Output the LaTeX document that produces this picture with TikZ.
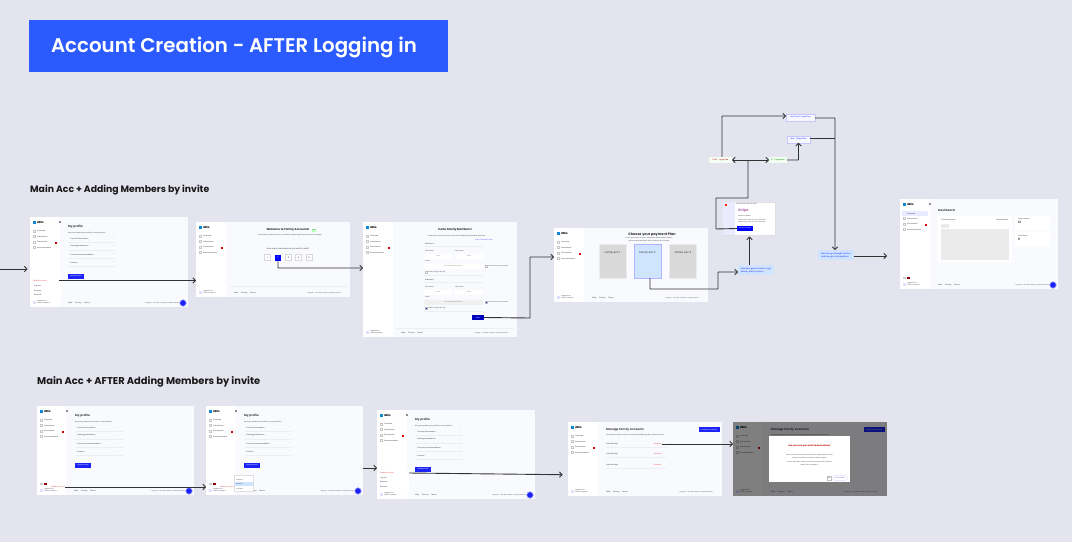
\documentclass[tikz,border=0pt]{standalone}
\usepackage{fontspec}
\usepackage{xcolor}
\setmainfont{Poppins}
\newfontfamily\headfont{Poppins SemiBold}
\usetikzlibrary{arrows.meta, positioning}

\definecolor{canvasbg}{HTML}{E3E4EE}
\definecolor{headblue}{HTML}{2B5BFF}
\definecolor{pagebg}{HTML}{F9FAFE}
\definecolor{btnblue}{HTML}{1A22F5}
\definecolor{notebg}{HTML}{CFE4FF}
\definecolor{inkdark}{HTML}{333333}
\definecolor{txtgray}{HTML}{3C3C46}
\definecolor{delred}{HTML}{E5484D}
\definecolor{rulegray}{HTML}{EDEEF3}

\tikzset{
    page/.style={rectangle, fill=pagebg, inner sep=0pt, outer sep=0pt, anchor=north west},
    sidebar/.style={rectangle, fill=white, inner sep=0pt, outer sep=0pt, anchor=north west},
    txt/.style={anchor=west, inner sep=0pt, font=\fontsize{1.8}{2.3}\selectfont, text=txtgray},
    txtc/.style={inner sep=0pt, align=center, font=\fontsize{1.8}{2.3}\selectfont, text=txtgray},
    headtxt/.style={inner sep=0pt, font=\fontsize{2.8}{3.2}\selectfont\bfseries, text=black!85},
    btn/.style={rectangle, fill=btnblue, inner sep=0pt, outer sep=0pt, text=white, font=\fontsize{1.6}{2}\selectfont},
    box/.style={rectangle, inner sep=0pt, outer sep=0pt, anchor=north west},
    planbox/.style={rectangle, fill=black!15, draw=black!8, line width=0.5pt, inner sep=0pt, outer sep=0pt, minimum width=27pt, minimum height=34pt},
    plantxt/.style={inner sep=0pt, font=\fontsize{2.6}{3}\selectfont, text=black!85},
    chip/.style={rectangle, inner sep=0pt, outer sep=0pt, minimum height=6.5pt, font=\fontsize{1.9}{2.4}\selectfont},
    bluechip/.style={chip, fill=blue!3, draw=blue!22, line width=0.5pt, text=btnblue},
    infonote/.style={rectangle, fill=notebg, inner sep=0pt, outer sep=0pt, minimum width=36pt, minimum height=10pt, align=left, text=btnblue, font=\fontsize{2}{3}\selectfont},
    sectionlabel/.style={anchor=west, inner sep=0pt, font=\fontsize{9.3}{11}\selectfont\bfseries, text=black!90},
    flow/.style={-{Straight Barb[length=2.6pt,width=5.4pt]}, draw=inkdark, line width=0.9pt, rounded corners=0.5pt},
    flowplain/.style={draw=inkdark, line width=0.9pt, rounded corners=0.5pt}
}

% #1 name, #2 left, #3 top, #4 width, #5 height, #6 sidebar width
\newcommand{\appscreen}[6]{
    \node[page, minimum width=#4pt, minimum height=#5pt] (#1) at (#2,#3) {};
    \node[sidebar, minimum width=#6pt, minimum height=#5pt] (#1side) at (#1.north west) {};
    \node[box, fill=cyan!70!blue, minimum width=2.5pt, minimum height=3pt] (#1logo) at ([shift={(3,3.5)}]#1.north west) {};
    \node[anchor=west, inner sep=0pt, font=\fontsize{2.8}{3.2}\selectfont\bfseries] (#1brand) at ([shift={(7,5)}]#1.north west) {dBio};
    \foreach \i/\t in {0/Overview,1/Instructions,2/Documents,3/Announcement} {
        \node[box, draw=black!22, line width=0.25pt, minimum width=2pt, minimum height=2pt] (#1ico\i) at ([shift={(3.3,{13+5.5*\i})}]#1.north west) {};
        \node[txt] (#1item\i) at ([shift={(7,{14+5.5*\i})}]#1.north west) {\t};
    }
    \node[box, fill=red!85!black, minimum width=2pt, minimum height=2pt] (#1badge) at ([shift={(25,24.5)}]#1.north west) {};
    \node[box, fill=blue!12, minimum width=3pt, minimum height=3pt] (#1avatar) at ([shift={(3,{#5-6.5})}]#1.north west) {};
    \node[txt, align=left, font=\fontsize{1.5}{1.9}\selectfont] (#1user) at ([shift={(7,{#5-5})}]#1.north west) {Logged in as\\Lorem Company};
    \node[txt] (#1foot) at ([shift={(#6+8,{#5-4})}]#1.north west) {Help};
    \node[txt] (#1foota) at ([shift={(#6+15,{#5-4})}]#1.north west) {Privacy};
    \node[txt] (#1footb) at ([shift={(#6+24,{#5-4})}]#1.north west) {Terms};
    \node[txt, anchor=east, font=\fontsize{1.3}{1.7}\selectfont] (#1copy) at ([shift={(-9,{#5-4})}]#1.north east) {Copyright © 2023 dBio Company. All rights reserved};
}

% small round help button in the corner of a screen, expand mark by the logo
\newcommand{\chatbtn}[1]{
    \node[circle, fill=btnblue, draw=blue!35, line width=0.6pt, inner sep=0pt, minimum size=6.5pt] (#1chat) at ([shift={(-5,-4)}]#1.south east) {};
    \node[box, draw=black!45, line width=0.2pt, minimum size=1.4pt] (#1expand) at ([shift={(29,4)}]#1.north west) {};
}

% language flags low in the sidebar
\newcommand{\flagpair}[2]{
    \node[box, fill=black!20, minimum width=3pt, minimum height=2pt] (#1flaga) at ([shift={(3,{#2-12})}]#1.north west) {};
    \node[box, fill=red!55!black, minimum width=3pt, minimum height=2pt] (#1flagb) at ([shift={(7,{#2-12})}]#1.north west) {};
}

% My profile body
\newcommand{\profilebody}[1]{
    \node[anchor=west, inner sep=0pt, font=\fontsize{2.9}{3.4}\selectfont\bfseries, text=black!75] (#1title) at ([shift={(38,10)}]#1.north west) {My profile};
    \node[txt, font=\fontsize{1.6}{2}\selectfont] (#1sub) at ([shift={(38,16)}]#1.north west) {Here you update your profile, for any questions};
    \foreach \i/\t in {0/Contact information,1/Viewing preferences,2/Contact recommendation,3/Invoices} {
        \node[txt] (#1row\i) at ([shift={(40,{21.5+8*\i})}]#1.north west) {\t};
        \node[txtc] (#1dash\i) at ([shift={(83,{21.5+8*\i})}]#1.north west) {--};
        \draw[rulegray, line width=0.3pt] ([shift={(38,{25.5+8*\i})}]#1.north west) -- ([shift={(86,{25.5+8*\i})}]#1.north west);
    }
    \node[btn, minimum width=16pt, minimum height=5pt] (#1update) at ([shift={(46,59.5)}]#1.north west) {Update profile};
}

% rows of family accounts
\newcommand{\familybody}[1]{
    \node[anchor=west, inner sep=0pt, font=\fontsize{2.9}{3.4}\selectfont\bfseries, text=black!75] (#1title) at ([shift={(38,8)}]#1.north west) {Manage Family Accounts};
    \node[txt, font=\fontsize{1.6}{2}\selectfont] (#1sub) at ([shift={(38,13.5)}]#1.north west) {Lorem ipsum dolor sit amet, consectetur adipiscing elit, sed do eiusmod};
    \node[btn, minimum width=21pt, minimum height=5pt] (#1create) at ([shift={(-13,7.5)}]#1.north east) {Create new member};
    \foreach \i/\t/\ypos in {0/Louis Rodrigo/22,1/Louis Rodrigo/32,2/Louis Rodrigo/43} {
        \node[txt] (#1fam\i) at ([shift={(38,\ypos)}]#1.north west) {\t};
        \node[txt, text=delred] (#1rem\i) at ([shift={(86,\ypos)}]#1.north west) {Remove};
        \draw[rulegray, line width=0.3pt] ([shift={(38,\ypos+3)}]#1.north west) -- ([shift={(98,\ypos+3)}]#1.north west);
    }
}

\begin{document}
\begin{tikzpicture}[x=1pt, y=-1pt]

\useasboundingbox[fill=canvasbg] (0,0) rectangle (1072,542);

% Heading
\node[rectangle, fill=headblue, inner sep=0pt, outer sep=0pt, minimum width=419pt, minimum height=52pt] (heading) at (238.5,46) {};
\node[inner sep=0pt, text=white, font=\fontsize{19.8}{24}\headfont] (headingtxt) at (234,47.5) {Account Creation - AFTER Logging in};

% Section labels
\node[sectionlabel] (toplabel) at (30,190.5) {Main Acc + Adding Members by invite};
\node[sectionlabel, font=\fontsize{9.9}{11}\selectfont\bfseries] (botlabel) at (37,381.5) {Main Acc + AFTER Adding Members by invite};

% First row of screens
\appscreen{profa}{30}{217}{158}{90}{30}
\chatbtn{profa}
\profilebody{profa}
\node[box, fill=white, minimum width=32pt, minimum height=22pt] (profapop) at (30,277) {};
\node[txt, text=delred] (profadel) at (33,280.5) {Delete Account};
\node[txt] (profaout) at (34,286) {Log out};
\node[txt] (profarem) at (34,290.5) {Remove};
\node[txt] (profarec) at (34,295) {Recents};

\appscreen{welc}{196}{222}{154}{75}{30}
\node[headtxt] (welctitle) at (288,230) {Welcome to Family Accounts!};
\node[box, fill=green!25, minimum width=4.5pt, minimum height=2.5pt, font=\fontsize{1.4}{2}\selectfont, text=green!50!black] (welcnew) at (311.7,229) {NEW};
\node[txtc, font=\fontsize{1.6}{2}\selectfont] (welcsub) at (290,235.5) {Lorem ipsum dolor sit amet, consectetur adipiscing elit, sed do eiusmod tempor};
\node[txtc, font=\fontsize{2}{2.5}\selectfont] (welcask) at (288,249) {How many members do you want to add?};
\foreach \i/\n/\xpos in {0/1/267.5,2/3/288.5,3/4/298.5,4/5/309} {
    \node[rectangle, fill=white, draw=black!15, line width=0.4pt, minimum size=6pt, inner sep=0pt, font=\fontsize{2}{2.4}\selectfont] (welcnum\i) at (\xpos,257.5) {\n};
}
\node[rectangle, fill=blue, minimum size=6pt, inner sep=0pt, outer sep=0pt, text=white, font=\fontsize{2}{2.4}\selectfont] (welctwo) at (278,257.5) {2};
\draw[rulegray, line width=0.4pt] (230,285.7) -- (347,285.7);

\appscreen{invi}{363}{222}{154}{115}{30}
\node[headtxt] (invititle) at (455,230) {Invite Family Members!};
\node[txtc, font=\fontsize{1.6}{2}\selectfont] (invisub) at (456.5,236) {Lorem ipsum dolor sit amet, consectetur adipiscing elit, sed do eiusmod};
\node[txtc, text=blue!70, font=\fontsize{1.5}{2}\selectfont] (invilink) at (484,239.5) {Learn more about roles};
\foreach \m/\yo/\mfill/\cfill in {a/0/white/white,b/36/black!6/blue} {
    \node[txt] (inviname\m) at (425,244+\yo) {Member \ifnum\yo=0 1\else 2\fi};
    \draw[rulegray, line width=0.4pt] (424,246.5+\yo) -- (483,246.5+\yo);
    \node[txt, font=\fontsize{1.6}{2}\selectfont] (invifirst\m) at (425,251+\yo) {First name};
    \node[txt, font=\fontsize{1.6}{2}\selectfont] (invilast\m) at (455,251+\yo) {Last name};
    \node[box, fill=white, minimum width=28pt, minimum height=4.5pt, font=\fontsize{1.6}{2}\selectfont, text=black!45] (invifbox\m) at (424,254+\yo) {Louis};
    \node[box, fill=white, minimum width=28pt, minimum height=4.5pt, font=\fontsize{1.6}{2}\selectfont, text=black!45] (inviwbox\m) at (455,254+\yo) {Pablo};
    \node[txt, font=\fontsize{1.6}{2}\selectfont] (inviemail\m) at (425,261+\yo) {Email};
    \node[box, fill=\mfill, minimum width=59pt, minimum height=5pt, font=\fontsize{1.6}{2}\selectfont, text=black!45] (invimail\m) at (424,263.5+\yo) {louis.pablo@email.com};
    \node[box, fill=\cfill, draw=black!25, line width=0.2pt, minimum size=2pt] (invicheck\m) at (485,265+\yo) {};
    \node[txt, font=\fontsize{1.4}{2}\selectfont] (invinote\m) at (488,266+\yo) {Account for payment details};
    \node[box, fill=\cfill, draw=black!25, line width=0.2pt, minimum size=2pt] (invitick\m) at (425,271+\yo) {};
    \node[txt, font=\fontsize{1.6}{2}\selectfont] (inviacc\m) at (428,272+\yo) {Invite to login with QR};
    \draw[rulegray, line width=0.3pt] (424,275+\yo) -- (483,275+\yo);
}
\node[rectangle, fill=blue!75!black, minimum width=12pt, minimum height=5pt, inner sep=0pt, outer sep=0pt, text=white, font=\fontsize{1.6}{2}\selectfont] (invinext) at (478,317.5) {Next};
\draw[rulegray, line width=0.4pt] (396,328) -- (514,328);

\appscreen{plan}{554}{228}{154}{74}{30}
\node[headtxt, font=\fontsize{3.4}{4}\selectfont\bfseries] (plantitle) at (652,234.5) {Choose your payment Plan};
\node[txtc, font=\fontsize{1.5}{2.4}\selectfont] (plansub) at (649,239.5) {Lorem ipsum dolor sit amet, consectetur adipiscing elit, sed do\\Quis nostrud exercitation ullamco laboris nisi ut aliquip};
\node[planbox] (acca) at (612.5,261) {};
\node[planbox, fill=notebg, draw=blue!30] (accb) at (647.5,261) {};
\node[planbox] (accc) at (683,261) {};
\node[plantxt] (accatxt) at (612.5,252.5) {Family Acc 1};
\node[plantxt] (accbtxt) at (647.5,252.5) {Family Acc 2};
\node[plantxt] (accctxt) at (683,252.5) {Family Acc 3};

% Payment popup
\node[box, fill=white, draw=black!12, line width=0.4pt, minimum width=52pt, minimum height=33pt] (paywin) at (723,202) {};
\node[box, fill=blue!8, minimum width=12pt, minimum height=32.5pt] (payside) at (723.2,202.2) {};
\node[box, fill=red!70!orange, minimum width=2pt, minimum height=2pt] (payico) at (725,203.5) {};
\node[txt, font=\fontsize{1.5}{2}\selectfont] (paytop) at (736,204.5) {Lorem ipsum dolor sit amet};
\node[txt, text=violet!60, font=\fontsize{3.4}{4}\selectfont\bfseries] (paysum) at (738,211) {Stripe};
\node[txt, font=\fontsize{1.5}{2}\selectfont] (payone) at (738,216) {Payment details};
\node[txt, align=left, font=\fontsize{1.4}{1.8}\selectfont] (paytwo) at (738,221) {Lorem ipsum dolor sit amet, consectetur\\adipiscing elit, sed do eiusmod tempor};
\node[rectangle, fill=blue, minimum width=16pt, minimum height=5pt, inner sep=0pt, outer sep=0pt, text=white, font=\fontsize{1.5}{2}\selectfont] (paybtn) at (745,228.5) {Accept and pay};

% Status chips
\node[chip, fill=green!4, text=red!75!black, minimum width=23pt] (failchip) at (720.5,160) {PYMT - Legal Fee};
\node[chip, fill=green!6, text=green!50!black, minimum width=18pt] (okchip) at (778,160) {PT - Legal Fee};
\node[bluechip, minimum width=29pt, font=\fontsize{1.7}{2.4}\selectfont] (notifchip) at (800.5,117.5) {Notif Email - Stripe Plan};
\node[bluechip, minimum width=23pt, font=\fontsize{1.9}{2.4}\selectfont] (mailchip) at (798.5,139.5) {Mail - Stripe Plan};

% Notes
\node[infonote] (noteplan) at (756,270) {Members get an invite to login\\directly, they’ll come in};
\node[infonote] (notedash) at (836,255) {Main Acc go through the flow,\\and they go to the platform};

% Dashboard
\appscreen{dash}{900}{199}{158}{90}{30}
\chatbtn{dash}
\flagpair{dash}{90}
\node[box, fill=blue!8, minimum width=26pt, minimum height=5pt] (dashact) at (902,211) {};
\node[txt] (dashactxt) at (907,213.5) {Overview};
\node[anchor=west, inner sep=0pt, font=\fontsize{2.9}{3.4}\selectfont\bfseries, text=black!75] (dashtitle) at (938,210) {Dashboard};
\node[box, fill=white, minimum width=74pt, minimum height=46pt] (dashcard) at (938,216) {};
\node[txt] (dashhead) at (941,220.5) {Overview graph};
\node[txtc] (dashtag) at (1002,220.5) {Last updated};
\node[box, fill=black!8, minimum width=8pt, minimum height=3.5pt] (dashchip) at (941,224) {};
\node[box, fill=black!8, minimum width=68pt, minimum height=31pt] (dashgraph) at (941,229) {};
\node[box, fill=white, minimum width=35pt, minimum height=14pt] (dashopen) at (1015,215.5) {};
\node[box, fill=white, minimum width=35pt, minimum height=14pt] (dashtotal) at (1015,232) {};
\node[txt] (dashopent) at (1018,219) {Open claims};
\node[txt, font=\fontsize{3}{3.4}\selectfont\bfseries] (dashopenn) at (1018,222.5) {12};
\node[txt] (dashtotalt) at (1018,236) {Total Docs};
\node[txt, font=\fontsize{3}{3.4}\selectfont\bfseries] (dashtotaln) at (1018,239.5) {5};

% Second row of screens
\appscreen{profb}{37}{406}{157}{89}{29}
\chatbtn{profb}
\flagpair{profb}{89}
\profilebody{profb}
\node[txt, anchor=east, text=delred] (profbdel) at (65,487) {Delete Account};

\appscreen{profc}{206}{406}{157}{89}{29}
\chatbtn{profc}
\flagpair{profc}{89}
\profilebody{profc}
\node[txt, anchor=east, text=delred] (profcdel) at (234,487) {Delete Account};
\node[box, fill=white, draw=black!12, line width=0.3pt, minimum width=19pt, minimum height=16pt] (profcdrop) at (234,475) {};
\node[box, fill=notebg, minimum width=18.5pt, minimum height=4pt] (profcsel) at (234.2,482) {};
\node[txt, font=\fontsize{1.6}{2}\selectfont] (profcopta) at (236,479.5) {Invoices};
\node[txt, font=\fontsize{1.6}{2}\selectfont] (profcoptb) at (236,484) {Account};
\node[txt, font=\fontsize{1.6}{2}\selectfont] (profcoptc) at (236,488.5) {Contact};

\appscreen{profd}{377}{410}{158}{89}{30}
\chatbtn{profd}
\profilebody{profd}
\node[box, fill=white, minimum width=32pt, minimum height=22pt] (profdpop) at (377,470) {};
\node[txt, text=delred] (profddel) at (380,473) {Delete Account};
\node[txt] (profdout) at (380,478) {Log out};
\node[txt] (profdrem) at (380,482) {Remove};
\node[txt] (profdrec) at (380,486.5) {Recents};

\appscreen{mana}{568}{422}{154}{74}{30}
\familybody{mana}

\appscreen{manb}{733}{422}{154}{74}{30}
\familybody{manb}
% Grey overlay and dialog
\node[box, fill=black, opacity=0.5, minimum width=154pt, minimum height=74pt] (manbshade) at (733,422) {};
\node[box, fill=white, minimum width=81pt, minimum height=46pt] (dialog) at (769,436) {};
\node[inner sep=0pt, font=\fontsize{2.2}{3}\selectfont\bfseries, text=red!75!black] (dialogtitle) at (809.5,446) {Are you sure you want to downshare?};
\node[txtc, font=\fontsize{1.5}{3}\selectfont] (dialogone) at (809.5,456.5) {Lorem ipsum dolor sit amet, consectetur adipiscing elit, sed do\\tempor incididunt ut labore et dolore magna};
\node[txtc, font=\fontsize{1.5}{3}\selectfont] (dialogtwo) at (809.5,464) {Ut enim ad minim veniam, quis nostrud exercitation ullamco\\laboris nisi ut aliquip ex};
\node[rectangle, fill=white, draw=black!25, line width=0.3pt, minimum width=4.5pt, minimum height=4.5pt, inner sep=0pt, font=\fontsize{1.5}{2}\selectfont] (dialogno) at (829,478) {No};
\node[rectangle, fill=white, draw=blue!25, line width=0.3pt, rounded corners=1pt, minimum width=14pt, minimum height=4.5pt, inner sep=0pt, text=blue!80, font=\fontsize{1.5}{2}\selectfont] (dialogyes) at (840,478) {Yes, I'm sure};

% Free ends of the connectors
\coordinate (startin) at (0,269);
\coordinate (stopa) at (27.5,269);
\coordinate (startdel) at (59,280.5);
\coordinate (elbowwelc) at (278,268);
\coordinate (elbownext) at (530,318);
\coordinate (elbowplan) at (530,257);
\coordinate (elbowacc) at (650,289);
\coordinate (elbownote) at (718,289);
\coordinate (elbownoteb) at (718,272);
\coordinate (noteup) at (749.5,265);
\coordinate (noteupend) at (749.5,236.5);
\coordinate (elbowpay) at (716,229);
\coordinate (elbowpayb) at (716,198);
\coordinate (elbowpayc) at (748,198);
\coordinate (chiplink) at (748,160);
\coordinate (elbowfail) at (722,116);
\coordinate (elbowstripe) at (835,118);
\coordinate (elbowmail) at (835,138);
\coordinate (startdash) at (854,256);
\coordinate (stopdash) at (887,256);
\coordinate (starttwo) at (363,468);
\coordinate (startthree) at (409,473);
\coordinate (stopthree) at (562.7,474.7);

% Draw arrows between screens
\draw[flow] (startin) -- (stopa);
\draw[flow] (startdel) -- (startdel -| welc.west);
\draw[flow] (welctwo.south) -- (elbowwelc) -- (elbowwelc -| invi.west);
\draw[flow] (invinext.east) -- (elbownext) -- (elbowplan) -- (plan.west |- elbowplan);
\draw[flow] (accb.south -| elbowacc) -- (elbowacc) -- (elbownote) -- (elbownoteb) -- (noteplan.west |- elbownoteb);
\draw[flow] (noteup) -- (noteupend);
\draw[flowplain] (paybtn.west) -- (elbowpay) -- (elbowpayb) -- (elbowpayc) -- (chiplink);
\draw[flow, {Straight Barb[length=2.6pt,width=5.4pt]}-{Straight Barb[length=2.6pt,width=5.4pt]}] (failchip.east) -- (okchip.west);
\draw[flow] (failchip.north -| elbowfail) -- (elbowfail) -- (notifchip.west |- elbowfail);
\draw[flow] (okchip.east) -- (mailchip.south |- okchip.east) -- (mailchip.south);
\draw[flowplain] (mailchip.east |- elbowmail) -- (elbowmail);
\draw[flow] (notifchip.east |- elbowstripe) -- (elbowstripe) -- (notedash.north -| elbowstripe);
\draw[flow] (startdash) -- (stopdash);

\draw[flow] (profbdel.east) -- (profbdel.east -| profc.west);
\draw[flow] (starttwo) -- (starttwo -| profd.west);
\draw[flow] (startthree) -- (stopthree);
\draw[flow] (manarem0.east) -- (manarem0.east -| manb.west);

\end{tikzpicture}
\end{document}
